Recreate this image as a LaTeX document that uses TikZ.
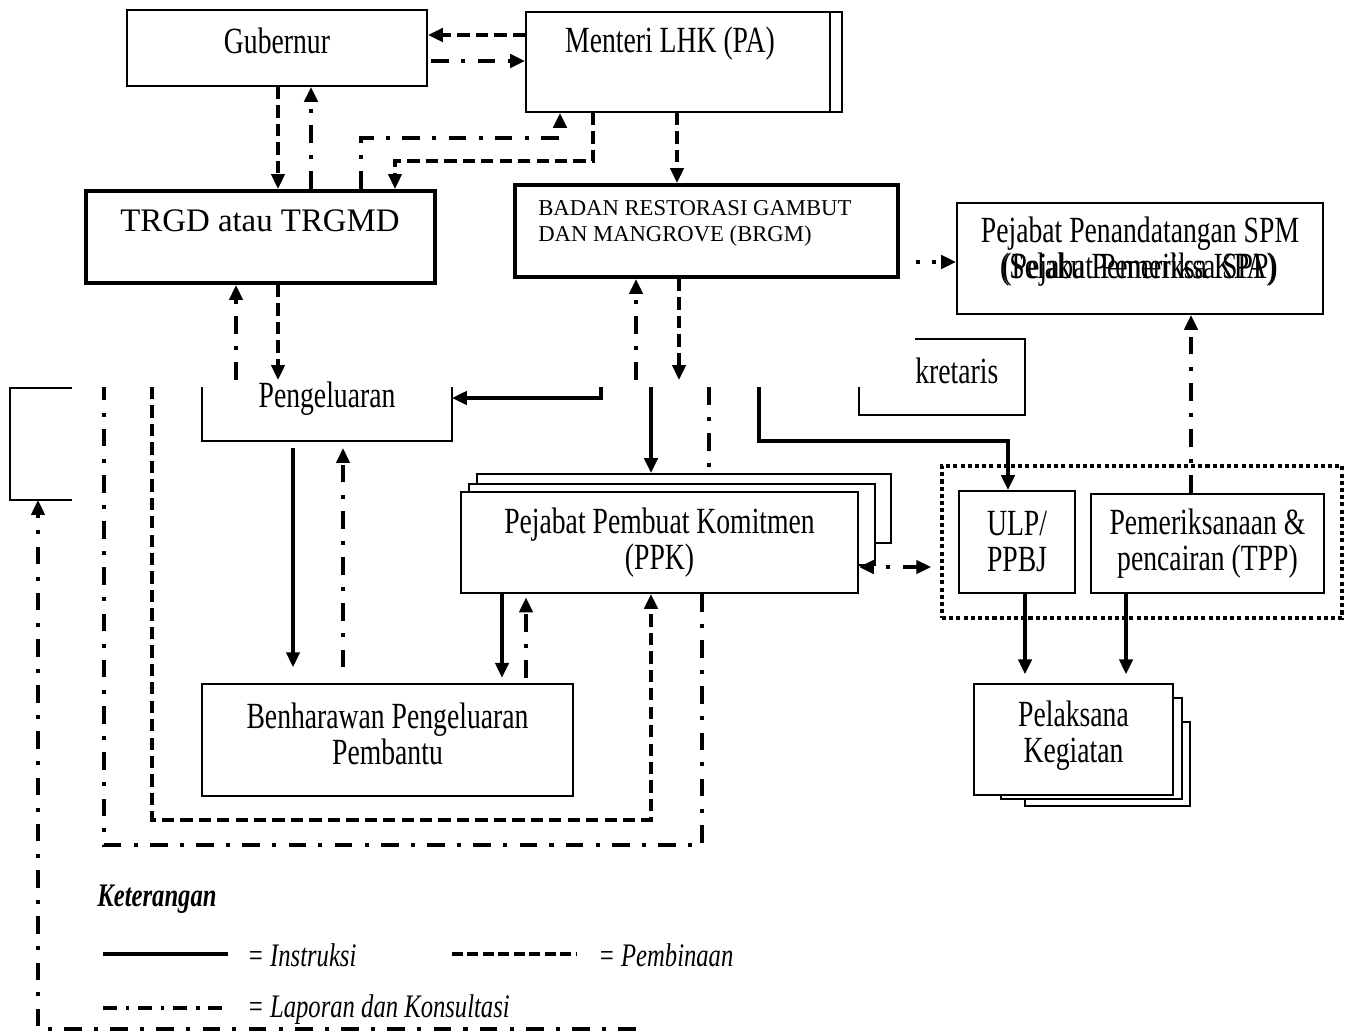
\documentclass[tikz,border=0pt]{standalone}
\usepackage{fontspec}
\setmainfont{Liberation Serif}[FakeStretch=0.75]
\newfontfamily\lebar{Liberation Serif}
\usetikzlibrary{arrows.meta}

\begin{document}
\begin{tikzpicture}[x=0.02cm, y=-0.02cm, >={Triangle[length=8.5pt,width=7.5pt]},
  kotak/.style={draw, line width=1.1pt, fill=white, inner sep=0pt, align=center, font=\fontsize{21}{20.5}\selectfont},
  kotaktebal/.style={kotak, line width=2.3pt},
  bingkai/.style={inner sep=0pt, outer sep=0pt},
  teks/.style={inner sep=0pt, align=center, font=\fontsize{21}{20.5}\selectfont},
  garis/.style={line width=2.2pt},
  putus/.style={line width=2.2pt, dash pattern=on 7pt off 3.5pt},
  titik/.style={line width=2.2pt, dash pattern=on 10pt off 7pt on 2.3pt off 7pt},
  bintik/.style={line width=2.2pt, dash pattern=on 2.3pt off 7pt},
  ket/.style={inner sep=0pt, anchor=west, font=\fontsize{18.7}{18.7}\selectfont\itshape}]

\useasboundingbox (0,0) rectangle (1353,1034);
\coordinate (atas) at (0,380);
\coordinate (potong) at (0,387);
\coordinate (ujung) at (636,1029);

\node[kotak, minimum width=6cm, minimum height=1.52cm] (gub) at (277,48) {};
\node[teks] (t-gub) at (277,41) {Gubernur};
\node[kotak, minimum width=6.32cm, minimum height=2cm] (menteri) at (684,62) {};
\node[teks] (t-menteri) at (670,44) {Menteri LHK (PA)};
\draw[line width=1.1pt] (menteri.north -| 830,0) -- (menteri.south -| 830,0);

\node[kotaktebal, minimum width=6.98cm, minimum height=1.84cm] (trgd) at (260.5,237) {};
\node[teks, font=\lebar\fontsize{18.7}{18.7}\selectfont] (t-trgd) at (260,221) {TRGD atau TRGMD};
\node[kotaktebal, minimum width=7.66cm, minimum height=1.84cm] (brgm) at (706.5,231) {};
\node[teks, anchor=west, align=left, font=\lebar\fontsize{12.9}{14.7}\selectfont] (t-brgm) at (538,223) {BADAN RESTORASI GAMBUT\\DAN MANGROVE (BRGM)};

\node[kotak, minimum width=7.32cm, minimum height=2.22cm] (spm) at (1140,258.5) {};
\node[teks] (t-spm1) at (1140,234) {Pejabat Penandatangan SPM};
\node[teks] (t-spm2) at (1140,270) {(Pejabat Pemeriksa SPP)};
\node[teks] (t-spm3) at (1138,270) {(Selaku Pemeriksa KPA)};

\node[bingkai, minimum width=3.32cm, minimum height=1.52cm] (sekr) at (942,377) {};
\draw[line width=1.1pt] (sekr.north -| 915,0) -- (sekr.north east) -- (sekr.south east) -- (sekr.south west) -- (sekr.west |- potong);
\node[teks, anchor=west] (t-sekr) at (915,371) {kretaris};

\node[bingkai, minimum width=5cm, minimum height=1.08cm] (peng) at (327,414) {};
\draw[line width=1.1pt] (peng.north west) -- (peng.south west) -- (peng.south east) -- (peng.north east);
\node[teks] (t-peng) at (327,399) {Pengeluaran};

\node[bingkai, minimum width=1.24cm, minimum height=2.24cm] (kiri) at (41,444) {};
\draw[line width=1.1pt] (kiri.north east) -- (kiri.north west) -- (kiri.south west) -- (kiri.south east);

\node[kotak, minimum width=8.28cm, minimum height=1.38cm] (ppk3) at (684,508.5) {};
\node[kotak, minimum width=8.12cm, minimum height=1.62cm] (ppk2) at (672,524.5) {};
\node[kotak, minimum width=7.94cm, minimum height=2.02cm] (ppk) at (659.5,542.5) {Pejabat Pembuat Komitmen\\(PPK)};

\node[kotak, minimum width=7.42cm, minimum height=2.24cm] (bpp) at (387.5,740) {};
\node[teks] (t-bpp) at (387.5,734) {Benharawan Pengeluaran\\Pembantu};

\node[draw, line width=2.3pt, dash pattern=on 2.3pt off 1.8pt, minimum width=8cm, minimum height=3.04cm, inner sep=0pt] (grp) at (1142,542) {};
\node[kotak, minimum width=2.32cm, minimum height=2.04cm] (ulp) at (1017,542) {ULP/\\PPBJ};
\node[kotak, minimum width=4.66cm, minimum height=1.98cm] (tpp) at (1207.5,543.5) {Pemeriksanaan \&\\pencairan (TPP)};

\node[kotak, minimum width=3.3cm, minimum height=1.68cm] (pk3) at (1107.5,764) {};
\node[kotak, minimum width=3.62cm, minimum height=2.02cm] (pk2) at (1091.5,748.5) {};
\node[kotak, minimum width=3.98cm, minimum height=2.22cm] (pk) at (1073.5,739.5) {};
\node[teks] (t-pk) at (1073.5,736) {Pelaksana\\Kegiatan};

\draw[putus,->] (menteri.west |- 0,35) -- (gub.east |- 0,35);
\draw[titik,->,shorten <=2pt] (gub.east |- 0,61) -- (menteri.west |- 0,61);
\draw[putus,->] (gub.south -| 278,0) -- (trgd.north -| 278,0);
\draw[titik,->] (trgd.north -| 311,0) -- (gub.south -| 311,0);
\draw[titik,->] (trgd.north -| 361,0) |- (560,138) -- (menteri.south -| 560,0);
\draw[putus,->] (menteri.south -| 593,0) |- (395,161) -- (trgd.north -| 395,0);
\draw[putus,->] (menteri.south -| 677,0) -- (brgm.north -| 677,0);
\draw[bintik,->,shorten <=9pt] (brgm.east |- 0,262) -- (spm.west |- 0,262);

\draw[titik,->] (atas -| 236,0) -- (trgd.south -| 236,0);
\draw[putus,->] (trgd.south -| 278,0) -- (atas -| 278,0);
\draw[titik,->] (atas -| 636,0) -- (brgm.south -| 636,0);
\draw[putus,->] (brgm.south -| 679,0) -- (atas -| 679,0);

\draw[garis,->] (potong -| 601,0) |- (peng.east |- 0,398);
\draw[garis,->] (potong -| 651,0) -- (ppk3.north -| 651,0);
\draw[garis,->] (potong -| 759,0) |- (1008,441) -- (ulp.north -| 1008,0);
\draw[titik] (potong -| 709,0) -- (ppk3.north -| 709,0);
\draw[titik] (ppk.south -| 702,0) |- (104,845) -- (potong -| 104,0);
\draw[putus,->] (potong -| 152,0) |- (651,820) -- (ppk.south -| 651,0);

\draw[garis,->,shorten <=4pt,shorten >=9pt] (peng.south -| 293,0) -- (bpp.north -| 293,0);
\draw[titik,->,shorten <=9pt,shorten >=4pt] (bpp.north -| 343,0) -- (peng.south -| 343,0);
\draw[garis,->,shorten >=3pt] (ppk.south -| 502,0) -- (bpp.north -| 502,0);
\draw[titik,->,shorten <=3pt,shorten >=2pt] (bpp.north -| 526,0) -- (ppk.south -| 526,0);
\draw[garis,<->,dash pattern=on 0pt off 7.4pt on 2.3pt off 7.4pt on 9pt off 7pt,shorten >=5pt] (ppk.east |- 0,567) -- (grp.west |- 0,567);

\draw[titik,->] (tpp.north -| 1191,0) -- (spm.south -| 1191,0);
\draw[garis,->,shorten >=5pt] (ulp.south -| 1025,0) -- (pk.north -| 1025,0);
\draw[garis,->,shorten >=5pt] (tpp.south -| 1126,0) -- (pk.north -| 1126,0);
\draw[titik,->] (ujung) -| (kiri.south -| 38,0);

\node[inner sep=0pt, font=\fontsize{18.7}{18.7}\selectfont\bfseries\itshape] (ket) at (157,899) {Keterangan};
\draw[garis, line width=2.4pt] (103,954) -- (228,954);
\node[ket] (k-ins) at (247,955) {= Instruksi};
\draw[garis, line width=2.4pt, dash pattern=on 6.2pt off 2.6pt] (452,954) -- (577,954);
\node[ket] (k-pem) at (598,955) {= Pembinaan};
\draw[garis, line width=2.4pt, dash pattern=on 8pt off 5pt on 2pt off 5pt] (103,1008) -- (228,1008);
\node[ket] (k-lap) at (247,1010) {= Laporan dan Konsultasi};
\end{tikzpicture}
\end{document}
